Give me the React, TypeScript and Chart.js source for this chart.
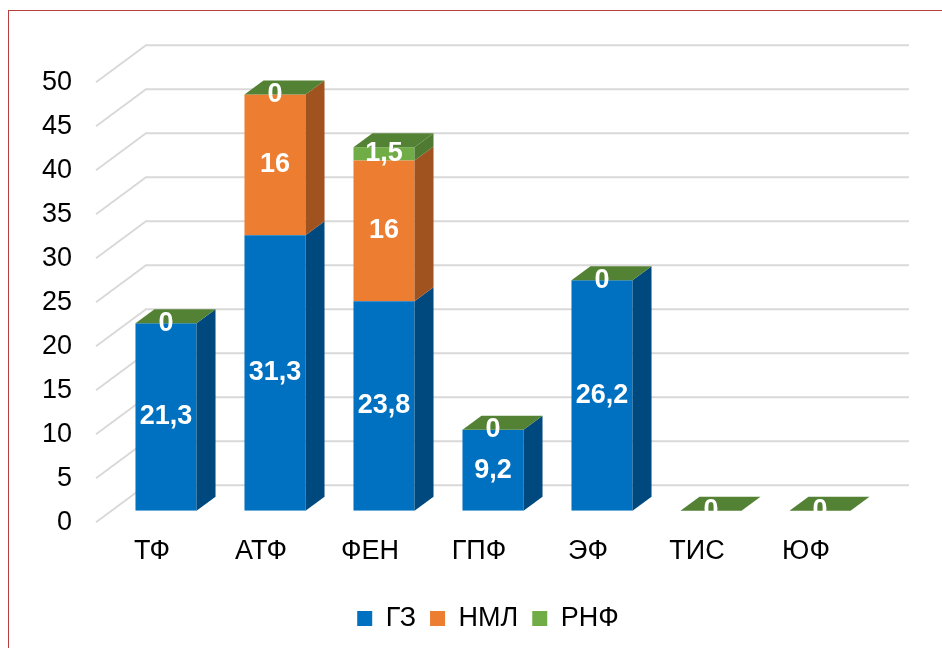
import React, { useEffect, useRef } from "react";
import { Chart, registerables } from "chart.js";

Chart.register(...registerables);

const categories = ["ТФ", "АТФ", "ФЕН", "ГПФ", "ЭФ", "ТИС", "ЮФ"];
const seriesNames = ["ГЗ", "НМЛ", "РНФ"];
const gzValues: (number | null)[] = [21.3, 31.3, 23.8, 9.2, 26.2, null, null];
const nmlValues: (number | null)[] = [null, 16, 16, null, null, null, null];
const rnfValues: (number | null)[] = [0, 0, 1.5, 0, 0, 0, 0];
const yMin = 0;
const yMax = 50;
const yStep = 5;

const FONT = "'Liberation Sans', Arial, sans-serif";
const frontColors = ["#0070c0", "#ed7d31", "#70ad47"];
const sideColors = ["#00497f", "#a0521f", "#4e7a31"];
const topColor = "#548235";

const WALL_FRONT = { dx: -15.5, dy: 11.5 };
const WALL_BACK = { dx: 34.5, dy: -25.5 };
const DEPTH = { dx: 19, dy: -14 };

const fmt = (v: number) => String(v).replace(".", ",");

const threeD = {
  id: "threeD",
  beforeDatasetsDraw(chart: any) {
    const { ctx, chartArea: ca } = chart;
    const y = chart.scales.y;
    ctx.save();
    ctx.strokeStyle = "#d9d9d9";
    ctx.lineWidth = 2;
    for (const t of y.ticks) {
      const py = y.getPixelForValue(t.value);
      ctx.beginPath();
      ctx.moveTo(ca.left + WALL_FRONT.dx, py + WALL_FRONT.dy);
      ctx.lineTo(ca.left + WALL_BACK.dx, py + WALL_BACK.dy);
      ctx.lineTo(ca.right + WALL_BACK.dx, py + WALL_BACK.dy);
      ctx.stroke();
    }
    ctx.restore();
  },
  afterDatasetsDraw(chart: any) {
    const { ctx } = chart;
    const n = chart.data.labels.length;
    const dsCount = chart.data.datasets.length;
    ctx.save();
    const labels: { x: number; y: number; t: string }[] = [];
    for (let j = 0; j < n; j++) {
      let topEl: any = null;
      for (let i = 0; i < dsCount; i++) {
        const v = chart.data.datasets[i].data[j];
        if (v === null || v === undefined) continue;
        const el = chart.getDatasetMeta(i).data[j];
        const xr = el.x + el.width / 2;
        const yt = el.y;
        const yb = el.base;
        ctx.fillStyle = sideColors[i];
        ctx.beginPath();
        ctx.moveTo(xr, yt);
        ctx.lineTo(xr + DEPTH.dx, yt + DEPTH.dy);
        ctx.lineTo(xr + DEPTH.dx, yb + DEPTH.dy);
        ctx.lineTo(xr, yb);
        ctx.closePath();
        ctx.fill();
        topEl = el;
        labels.push({ x: el.x, y: (yt + yb) / 2, t: fmt(v) });
      }
      if (topEl) {
        const xl = topEl.x - topEl.width / 2;
        const xr = topEl.x + topEl.width / 2;
        const yt = topEl.y;
        ctx.fillStyle = topColor;
        ctx.beginPath();
        ctx.moveTo(xl, yt);
        ctx.lineTo(xl + DEPTH.dx, yt + DEPTH.dy);
        ctx.lineTo(xr + DEPTH.dx, yt + DEPTH.dy);
        ctx.lineTo(xr, yt);
        ctx.closePath();
        ctx.fill();
      }
    }
    ctx.fillStyle = "#ffffff";
    ctx.font = `bold 27px ${FONT}`;
    ctx.textAlign = "center";
    ctx.textBaseline = "middle";
    for (const l of labels) ctx.fillText(l.t, l.x, l.y);
    ctx.restore();
  },
};

export default function App() {
  const ref = useRef<HTMLCanvasElement>(null);
  useEffect(() => {
    const seriesData = [gzValues, nmlValues, rnfValues];
    const chart = new Chart(ref.current!, {
      type: "bar",
      data: {
        labels: categories,
        datasets: seriesNames.map((name, i) => ({
          label: name,
          data: seriesData[i],
          backgroundColor: frontColors[i],
          borderWidth: 0,
          barPercentage: 0.56,
          categoryPercentage: 1,
        })),
      },
      options: {
        responsive: false,
        animation: false,
        layout: { padding: { left: 0, right: 0, top: 58.7, bottom: 0 } },
        scales: {
          x: {
            stacked: true,
            grid: { display: false, drawTicks: false },
            border: { display: false },
            ticks: {
              font: { size: 27, family: FONT },
              color: "#000",
              padding: 25,
              labelOffset: -14,
              maxRotation: 0,
              autoSkip: false,
            },
            afterFit: (s: any) => {
              s.height = 80.3;
            },
          },
          y: {
            stacked: true,
            position: "left",
            min: yMin,
            max: yMax,
            grid: { display: false, drawTicks: false },
            border: { display: false },
            ticks: {
              stepSize: yStep,
              font: { size: 27, family: FONT },
              color: "#000",
              padding: 39.5,
              labelOffset: 11.5,
              autoSkip: false,
            },
            afterFit: (s: any) => {
              s.width = 102.5;
            },
          },
          yRight: {
            type: "linear",
            position: "right",
            display: true,
            grid: { display: false, drawTicks: false },
            border: { display: false },
            ticks: { display: false },
            afterFit: (s: any) => {
              s.width = 92.5;
            },
          },
        },
        plugins: {
          legend: {
            position: "bottom",
            labels: {
              boxWidth: 15,
              boxHeight: 15,
              padding: 14,
              font: { size: 27, family: FONT },
              color: "#000",
            },
          },
          tooltip: { enabled: false },
        },
      },
      plugins: [threeD],
    } as any);
    return () => chart.destroy();
  }, []);
  return (
    <div
      style={{
        position: "fixed",
        left: 0,
        top: 0,
        width: 942,
        height: 648,
        overflow: "hidden",
        background: "#fff",
      }}
    >
      <div
        style={{
          position: "absolute",
          left: 8,
          top: 10,
          width: 1000,
          height: 700,
          border: "1.5px solid #b3403f",
          boxSizing: "border-box",
        }}
      />
      <canvas
        ref={ref}
        width={958}
        height={630}
        style={{ position: "absolute", left: 9, top: 12, width: 958, height: 630 }}
      />
    </div>
  );
}
